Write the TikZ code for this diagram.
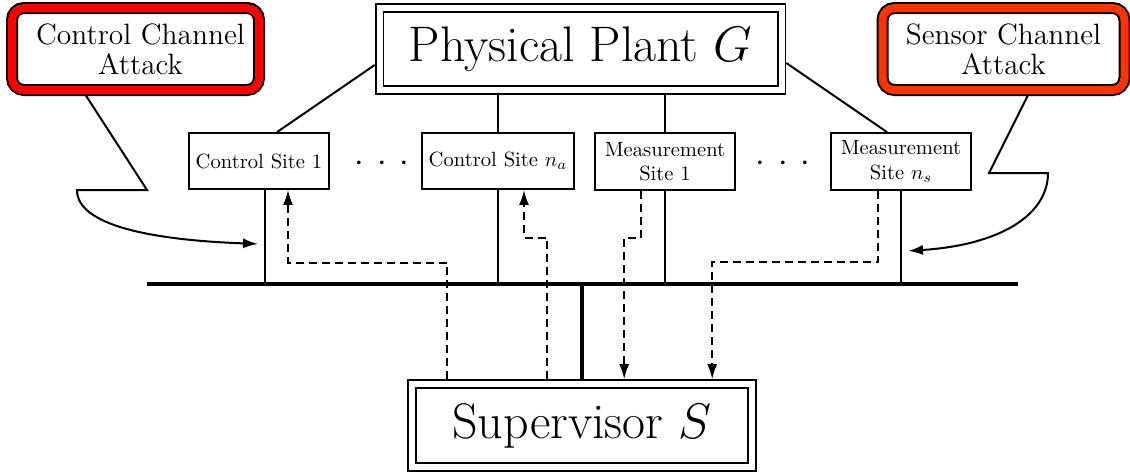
\documentclass[tikz,border=0pt]{standalone}
\usepackage{fix-cm}
\usepackage{fontspec}
\usetikzlibrary{arrows.meta,backgrounds}

\definecolor{sensorred}{RGB}{255,51,0}

\tikzset{
  site/.style={draw, line width=0.9pt, inner sep=3pt, minimum width=70pt, minimum height=28pt, align=center, font=\fontsize{10.3}{12.2}\selectfont},
  bigbox/.style={draw, line width=0.9pt, double, double distance=3pt, outer sep=2.4pt, inner sep=0pt, font=\fontsize{25}{30}\selectfont},
  attack/.style={draw, double=#1, line width=1pt, double distance=4pt, rounded corners=6pt, fill=white, minimum height=41pt, inner sep=0pt, align=center, font=\fontsize{14.7}{15.2}\selectfont},
  link/.style={line width=1pt},
  msg/.style={line width=1pt, dash pattern=on 4pt off 2.5pt, -{Latex[length=7.5pt,width=5pt]}},
  hit/.style={line width=1pt, -{Latex[length=7.5pt,width=5pt]}},
}

\begin{document}
\begin{tikzpicture}[x=0.5pt, y=-0.5pt]
    % Page of the same size as the reference (1130 x 472)
    \useasboundingbox (0,0) rectangle (1130,472);

    % Plant and supervisor
    \node[bigbox, minimum width=201pt, minimum height=41pt] (plant) at (580.5,49) {Physical Plant $G$};
    \node[bigbox, minimum width=170pt, minimum height=41.5pt] (sup) at (582,425.5) {Supervisor $S$};

    % Sites
    \node[site] (cs1) at (259,161) {Control Site 1};
    \node[site, minimum width=76pt] (csna) at (498,161) {Control Site $n_a$};
    \node[site, minimum height=28.5pt] (ms1) at (665,161.5) {Measurement\\Site 1};
    \node[site, minimum height=28.5pt] (msns) at (901,161.5) {Measurement\\Site $n_s$};
    \node (dotsA) at (382,164) {\LARGE$\cdot$\hspace{6.5pt}$\cdot$\hspace{6.5pt}$\cdot$};
    \node (dotsB) at (783,164) {\LARGE$\cdot$\hspace{6.5pt}$\cdot$\hspace{6.5pt}$\cdot$};

    % Attack boxes
    \node[attack=red, minimum width=123.5pt] (cca) at (135.5,49) {\hspace{5pt}Control Channel\\\hspace{5pt}Attack};
    \node[attack=sensorred, minimum width=121pt] (sca) at (1003.5,49) {Sensor Channel\\Attack};

    % Network bus
    \coordinate (busL) at (147,284);
    \coordinate (busR) at (1018,284);
    \draw[line width=2pt] (busL) -- (busR);
    \draw[line width=1.8pt] (sup.north) -- (sup.north |- busL);

    % Sites to the bus
    \draw[link] ([xshift=3pt]cs1.south) -- ([xshift=3pt]cs1.south |- busL);
    \draw[link] (csna.south) -- (csna.south |- busL);
    \draw[link] (ms1.south) -- (ms1.south |- busL);
    \draw[link] (msns.south) -- (msns.south |- busL);

    % Plant to the sites
    \draw[link] ([yshift=-8pt]plant.west) -- ([xshift=9pt]cs1.north);
    \draw[link] (csna.north) -- (csna.north |- plant.south);
    \draw[link] (ms1.north) -- (ms1.north |- plant.south);
    \draw[link] ([yshift=-7pt]plant.east) -- ([xshift=-7pt]msns.north);

    % Commands down to the sites, measurements up to S
    \draw[msg] ([xshift=20pt]sup.north west) |- ([xshift=14.5pt,yshift=-36.5pt]cs1.south) -- ([xshift=14.5pt]cs1.south);
    \draw[msg] ([xshift=70pt]sup.north west) |- ([xshift=13pt,yshift=-24pt]csna.south) -- ([xshift=13pt]csna.south);
    \draw[msg] ([xshift=-12pt]ms1.south) -- ++(0,-23.5pt) -| ([xshift=108.5pt]sup.north west);
    \draw[msg] ([xshift=-11.5pt]msns.south) -- ++(0,-35.5pt) -| ([xshift=152.5pt]sup.north west);

    % Attack tails
    \begin{scope}[on background layer]
        \draw[hit] ([xshift=-26.25pt]cca.south) -- (147,190) -- (77,190) .. controls (77,225) and (150,240) .. ([xshift=-0.5pt,yshift=-27pt]cs1.south);
        \draw[hit] ([xshift=13.25pt]sca.south) -- (989,173) -- (1048,173) .. controls (1048,215) and (1000,245) .. ([xshift=3.5pt,yshift=-30pt]msns.south);
    \end{scope}
\end{tikzpicture}
\end{document}
